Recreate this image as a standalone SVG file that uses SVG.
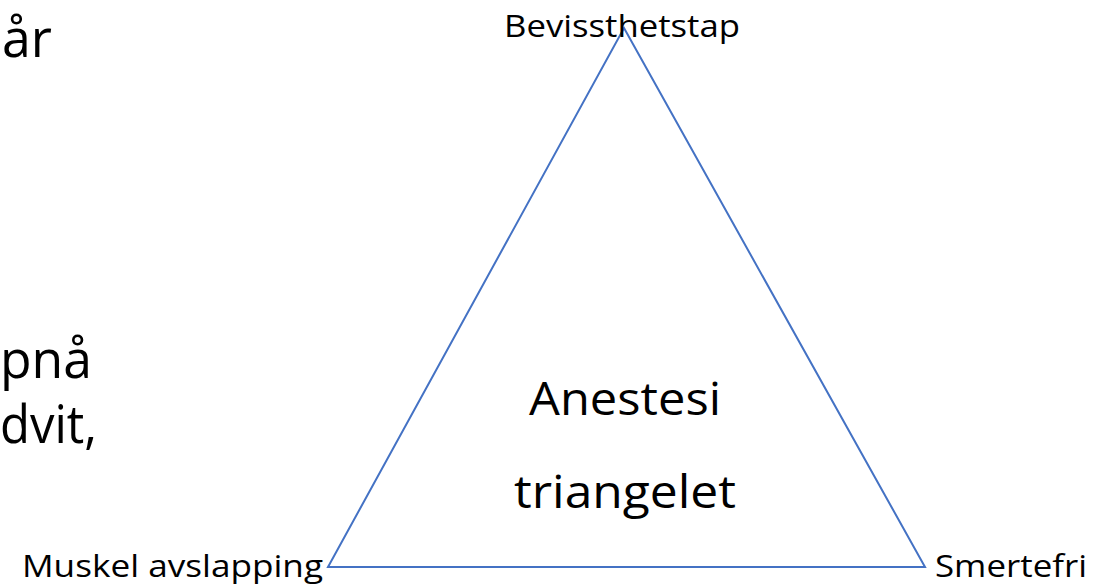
<svg xmlns="http://www.w3.org/2000/svg" width="1106" height="584" viewBox="0 0 1106 584">
  <style>
    .t { font-family: "Open Sans", "Noto Sans", sans-serif; fill: #000; }
    .lbl { font-size: 31px; }
    .big { font-size: 46px; }
    .body { font-size: 53px; }
    .edge { fill: none; stroke: #4472C4; stroke-width: 2; stroke-linejoin: miter; }
  </style>
  <rect width="1106" height="584" fill="#fff"/>

  <!-- bullet text running in from the left edge -->
  <g id="body-text">
    <text class="t body" x="2" y="57" textLength="50" lengthAdjust="spacingAndGlyphs">år</text>
    <text class="t body" x="0" y="378" textLength="92" lengthAdjust="spacingAndGlyphs">pnå</text>
    <text class="t body" x="0" y="443" textLength="97" lengthAdjust="spacingAndGlyphs">dvit,</text>
  </g>

  <g id="connectors">
    <polygon class="edge" points="624,28 925,567 328,567"/>
  </g>

  <g id="node-top">
    <text class="t lbl" x="622" y="37" text-anchor="middle" textLength="236" lengthAdjust="spacingAndGlyphs">Bevissthetstap</text>
  </g>
  <g id="node-left">
    <text class="t lbl" x="22" y="577" textLength="301" lengthAdjust="spacingAndGlyphs">Muskel avslapping</text>
  </g>
  <g id="node-right">
    <text class="t lbl" x="935" y="577" textLength="152" lengthAdjust="spacingAndGlyphs">Smertefri</text>
  </g>
  <g id="node-center">
    <text class="t big" x="625" y="415" text-anchor="middle" textLength="192" lengthAdjust="spacingAndGlyphs">Anestesi</text>
    <text class="t big" x="625" y="508" text-anchor="middle" textLength="222" lengthAdjust="spacingAndGlyphs">triangelet</text>
  </g>
</svg>
